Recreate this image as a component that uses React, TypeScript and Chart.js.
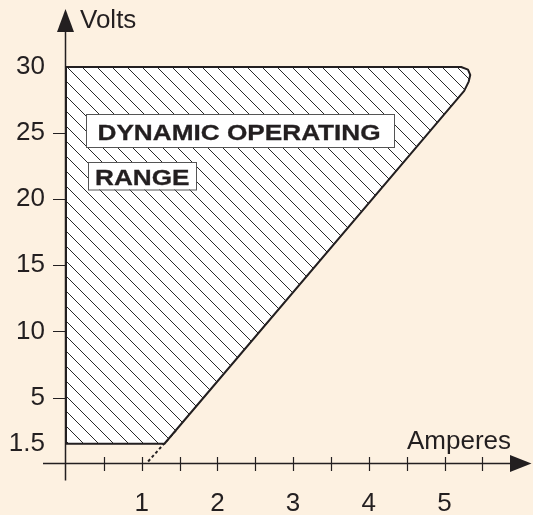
import React, { useEffect, useRef } from 'react';
import { Chart, registerables } from 'chart.js';
Chart.register(...registerables);

// ---- data ----
const regionAmps = [0, 1.3, 5.26, 5.32, 5.34, 5.31, 5.22, 0, 0];
const regionVolts = [1.5, 1.5, 28.2, 28.9, 29.4, 29.8, 30, 30, 1.5];
const dashAmps = [1.45, 1.06];
const dashVolts = [2.5, 0];
const yTickValues = [1.5, 5, 10, 15, 20, 25, 30];
const yTickMarks = [5, 10, 15, 20, 25];
const xTickLabels = [1, 2, 3, 4, 5];
const xTickMarks = [0.5, 1, 1.5, 2, 2.5, 3, 3.5, 4, 4.5, 5, 5.5];
const xTitle = 'Amperes';
const yTitle = 'Volts';
const regionLabels = ['DYNAMIC OPERATING', 'RANGE'];

const INK = '#231f20';
const BG = '#fdf1e1';
const FONT = '"Liberation Sans", Arial, Helvetica, sans-serif';

function makePattern(): CanvasPattern | string {
  const c = document.createElement('canvas');
  c.width = 15;
  c.height = 15;
  const g = c.getContext('2d');
  if (!g) return '#fff';
  g.fillStyle = '#ffffff';
  g.fillRect(0, 0, 15, 15);
  g.strokeStyle = '#2a2a2a';
  g.lineWidth = 1;
  g.beginPath();
  g.moveTo(-1, -1);
  g.lineTo(16, 16);
  g.moveTo(14, -1);
  g.lineTo(16, 1);
  g.moveTo(-1, 14);
  g.lineTo(1, 16);
  g.stroke();
  return g.createPattern(c, 'repeat') || '#fff';
}

const decor = {
  id: 'decor',
  afterDraw(chart: any) {
    const ctx = chart.ctx as CanvasRenderingContext2D;
    const xs = chart.scales.x;
    const ys = chart.scales.y;
    const x0 = xs.getPixelForValue(0);
    const y0 = ys.getPixelForValue(0);
    ctx.save();
    ctx.strokeStyle = INK;
    ctx.fillStyle = INK;
    ctx.lineWidth = 1.5;
    // x axis
    ctx.beginPath();
    ctx.moveTo(x0 - 23, y0);
    ctx.lineTo(512, y0);
    ctx.stroke();
    ctx.beginPath();
    ctx.moveTo(510, y0 - 8.5);
    ctx.lineTo(531.5, y0);
    ctx.lineTo(510, y0 + 8.5);
    ctx.closePath();
    ctx.fill();
    // y axis
    ctx.beginPath();
    ctx.moveTo(x0 - 0.5, y0 + 17);
    ctx.lineTo(x0 - 0.5, 32);
    ctx.stroke();
    ctx.beginPath();
    ctx.moveTo(x0 - 9, 32);
    ctx.lineTo(x0 - 0.5, 9);
    ctx.lineTo(x0 + 8, 32);
    ctx.closePath();
    ctx.fill();
    // tick marks
    ctx.lineWidth = 1.2;
    ctx.beginPath();
    xTickMarks.forEach((v) => {
      const px = Math.round(xs.getPixelForValue(v)) + 0.5;
      ctx.moveTo(px, y0 - 6.5);
      ctx.lineTo(px, y0 + 7.5);
    });
    yTickMarks.forEach((v) => {
      const py = Math.round(ys.getPixelForValue(v)) + 0.5;
      ctx.moveTo(x0 - 13, py);
      ctx.lineTo(x0, py);
    });
    ctx.stroke();
    // axis titles
    ctx.font = `26px ${FONT}`;
    ctx.textBaseline = 'alphabetic';
    ctx.textAlign = 'left';
    ctx.fillText(yTitle, 80, 27.5);
    ctx.fillText(xTitle, 407, 448.5);
    // region labels
    const boxes = [
      { x: 86, y: 114, w: 308, h: 33, tx: 97.5, ty: 139.5 },
      { x: 88, y: 162, w: 108, h: 27.5, tx: 95, ty: 185 },
    ];
    boxes.forEach((b, i) => {
      ctx.fillStyle = '#ffffff';
      ctx.fillRect(b.x, b.y, b.w, b.h);
      ctx.strokeStyle = '#555';
      ctx.lineWidth = 1;
      ctx.strokeRect(b.x + 0.5, b.y + 0.5, b.w, b.h);
      ctx.save();
      ctx.translate(b.tx, b.ty);
      ctx.scale(1.19, 1);
      ctx.font = `bold 22px ${FONT}`;
      ctx.fillStyle = INK;
      ctx.strokeStyle = INK;
      ctx.lineWidth = 0.3;
      ctx.fillText(regionLabels[i], 0, 0);
      ctx.strokeText(regionLabels[i], 0, 0);
      ctx.restore();
    });
    ctx.restore();
  },
};

export default function App() {
  const ref = useRef<HTMLCanvasElement | null>(null);
  useEffect(() => {
    if (!ref.current) return;
    const pattern = makePattern();
    const chart = new Chart(ref.current, {
      type: 'scatter',
      data: {
        datasets: [
          {
            data: regionAmps.map((a, i) => ({ x: a, y: regionVolts[i] })),
            showLine: true,
            fill: 'shape',
            backgroundColor: pattern as any,
            borderColor: INK,
            borderWidth: 2,
            pointRadius: 0,
            tension: 0,
            borderJoinStyle: 'round',
          } as any,
          {
            data: dashAmps.map((a, i) => ({ x: a, y: dashVolts[i] })),
            showLine: true,
            fill: false,
            borderColor: INK,
            borderWidth: 2,
            borderDash: [3, 2.5],
            pointRadius: 0,
          } as any,
        ],
      },
      options: {
        responsive: false,
        animation: false,
        events: [],
        layout: { padding: { top: 40.6, right: 12.8, left: 0, bottom: 0 } },
        plugins: { legend: { display: false }, tooltip: { enabled: false } },
        scales: {
          x: {
            type: 'linear',
            min: 0,
            max: 6,
            grid: { display: false, drawTicks: false },
            border: { display: false },
            ticks: {
              padding: 25,
              maxRotation: 0,
              color: INK,
              font: { family: FONT, size: 26 },
              callback: (v: any) => String(v),
            },
            afterBuildTicks: (s: any) => {
              s.ticks = xTickLabels.map((v) => ({ value: v }));
            },
            afterFit: (s: any) => {
              s.height = 51.4;
            },
          },
          y: {
            type: 'linear',
            min: 0,
            max: 32,
            grid: { display: false, drawTicks: false },
            border: { display: false },
            ticks: {
              padding: 21,
              color: INK,
              font: { family: FONT, size: 26 },
              callback: (v: any) => String(v),
            },
            afterBuildTicks: (s: any) => {
              s.ticks = yTickValues.map((v) => ({ value: v }));
            },
            afterFit: (s: any) => {
              s.width = 66;
            },
          },
        },
      },
      plugins: [decor],
    });
    return () => chart.destroy();
  }, []);
  return (
    <div style={{ position: 'fixed', left: 0, top: 0, width: 533, height: 515, background: BG }}>
      <canvas ref={ref} width={533} height={515} style={{ display: 'block' }} />
    </div>
  );
}
